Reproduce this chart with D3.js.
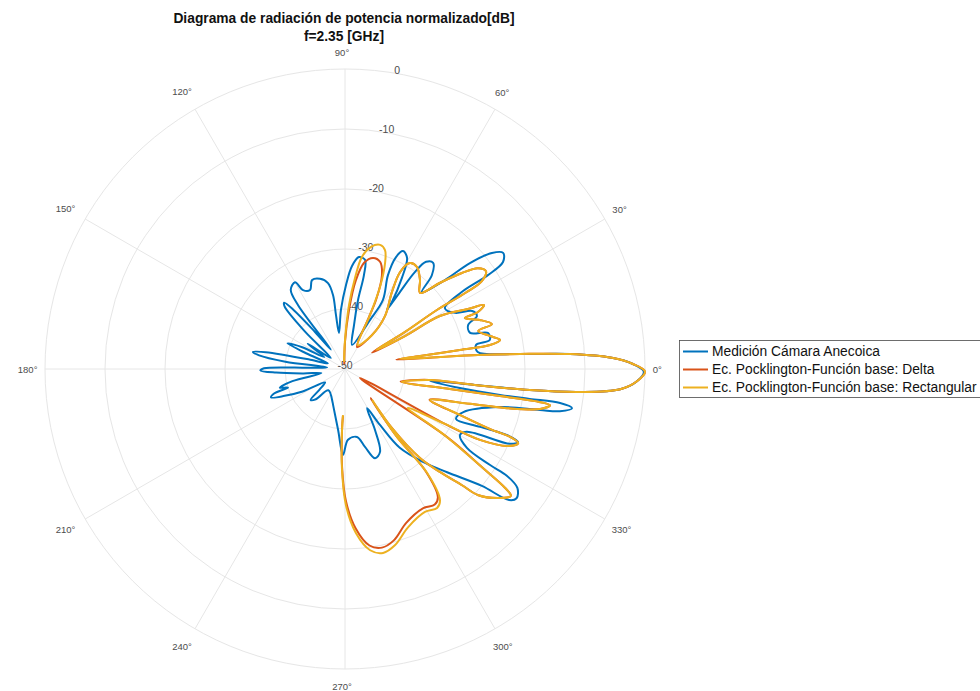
<!DOCTYPE html>
<html>
<head>
<meta charset="utf-8">
<script src="https://cdn.jsdelivr.net/npm/d3@7"></script>
<style>
  body { margin: 0; background: #ffffff; }
  svg { display: block; font-family: "Liberation Sans", Arial, Helvetica, sans-serif; }
</style>
</head>
<body>
<svg id="chart" width="980" height="691"></svg>
<script>
// ---- axis ticks ----
const rTicks = [-50, -40, -30, -20, -10, 0];
const thetaTicks = [0, 30, 60, 90, 120, 150, 180, 210, 240, 270, 300, 330];

// ---- series ----
const seriesNames = [
  "Medición Cámara Anecoica",
  "Ec. Pocklington-Función base: Delta",
  "Ec. Pocklington-Función base: Rectangular"
];
const seriesColors = ["#0072BD", "#D95319", "#EDB120"];

// measured pattern (angle in degrees, level in dB)
const medAngle = [
  99.5, 93.9, 89.3, 86.1, 82.9, 79.6, 78.6, 79.3, 78.4, 73.7,
  63.0, 61.2, 65.4, 65.5, 63.8, 60.8, 58.0, 55.0, 54.6,
  54.5, 54.2, 52.9, 50.3, 47.2, 45.0,
  41.7, 40.3, 38.3, 36.3, 34.1, 33.3, 33.4, 31.4,
  27.0, 24.5, 21.9, 19.7, 16.1, 14.1, 11.3, 10.4, 7.3,
  4.9, 3.8, 2.4, 1.0, -0.5, -2.4, -4.2, -5.6, -6.5, -7.0, -8.0,
  -9.4, -9.5, -9.2, -9.0, -9.8, -11.1, -11.9, -13.8, -20.0,
  -24.2, -23.2, -22.2, -22.9, -24.4, -27.3, -29.9,
  -32.9, -33.5, -33.4, -34.6, -37.0, -38.6, -40.5, -45.3, -50.0, -55.2, -58.0, -60.6,
  -63.8, -67.1, -71.4, -75.6, -80.0, -87.6, -91.3, -96.5, -108.4,
  250, 232, 226, 222, 219, 214, 208, 204, 201, 199, 198, 196, 193, 190,
  186, 183, 181, 179.5, 178, 175, 173, 171, 169.5, 168, 165, 162,
  158, 156, 153, 150, 146, 142, 137, 134, 132.5, 131, 129, 126,
  126.3, 124.4, 119.9, 118.0, 113.9, 110.3, 105.5, 101.2, 99.2, 99.5
];
const medDb = [
  -43.9, -40.1, -36.0, -32.8, -31.2, -31.5, -34.0, -38.3, -42.5, -45.8,
  -40.8, -36.9, -32.8, -29.5, -28.1, -28.8, -32.1, -36.4, -37.9,
  -34.2, -30.1, -27.6, -27.0, -28.7, -31.9,
  -27.7, -22.7, -18.8, -17.3, -18.2, -21.5, -26.7, -30.5,
  -29.4, -26.7, -26.3, -28.2, -28.3, -25.4, -25.4, -27.8, -27.7,
  -20.7, -12.4, -5.5, -2.0, -0.2, -1.3, -4.0, -10.7, -19.0, -28.2, -35.7,
  -30.6, -23.8, -18.8, -13.7, -11.6, -13.5, -16.8, -23.4, -29.0,
  -29.7, -25.5, -20.8, -18.7, -19.8, -27.2, -27.9,
  -25.8, -21.0, -17.7, -15.1, -14.2, -15.0, -20.0, -25.8, -29.8, -34.0, -39.0, -42.5,
  -38.7, -35.0, -34.3, -36.6, -38.5, -38.2, -35.7, -39.8, -43.7,
  -44.0, -45.5, -43.0, -42.3, -44.5, -46.0, -42.0, -39.0, -36.8, -37.5, -40.0, -38.7, -41.0, -46.0,
  -43.0, -38.5, -35.9, -36.5, -44.0, -47.0, -40.0, -35.5, -34.4, -36.5, -44.0, -47.0,
  -43.0, -39.5, -42.0, -46.0, -42.5, -47.0, -41.0, -35.5, -35.0, -37.0, -42.0, -46.0,
  -36.8, -34.0, -33.3, -35.1, -35.6, -34.2, -34.4, -35.4, -37.5, -40.9
];

// Pocklington, delta basis functions
const deltaAngle = [
  98.1, 90.0, 86.1, 83.0, 79.8, 75.8, 71.9, 68.5, 65.8, 65.2, 61.6,
  51.5, 53.0, 58.6, 60.4, 58.5, 54.8, 49.9, 45.4,
  42.2, 39.4, 37.2, 34.8, 32.7, 32.3, 32.7, 31.7, 31.3,
  28.8, 29.2, 26.0, 24.7, 23.2, 23.0, 20.0, 17.0, 15.9, 12.8, 10.6, 9.4, 9.4, 9.8, 10.3,
  7.2, 6.0, 4.9, 3.8, 2.4, 1.0, -0.5, -2.4, -4.2, -5.6, -6.5, -7.0, -7.4,
  -12.8, -10.8, -9.9, -9.6, -10.0, -11.6, -13.7, -15.6, -20.0,
  -21.8, -22.5, -22.4, -23.2, -25.3, -27.7, -28.8, -31.0,
  -33.7, -35.7, -36.6, -37.4, -39.8, -43.5, -44.8, -47.3, -49.9, -51.5, -48.9,
  -52.6, -51.7, -54.1, -56.5, -60.8, -68.3, -74.1, -78.3, -82.1, -86.2, -89.6, -91.7, -92.8, -92.5
];
const deltaDb = [
  -49.2, -45.5, -40.1, -35.1, -32.0, -30.9, -31.2, -33.2, -37.4, -40.6, -45.8,
  -42.8, -38.9, -35.0, -31.4, -29.3, -29.2, -30.6, -32.2,
  -28.6, -24.8, -22.2, -21.4, -22.9, -26.3, -31.8, -38.3, -44.7,
  -38.6, -31.9, -27.2, -24.5, -25.9, -28.3, -26.1, -24.4, -26.9, -25.2, -23.7, -25.5, -30.6, -37.3, -41.3,
  -34.0, -27.7, -20.7, -12.4, -5.5, -2.0, 0.0, -1.3, -4.0, -10.7, -19.0, -28.2, -35.9,
  -40.5, -32.2, -23.8, -17.9, -15.3, -16.8, -22.6, -28.4, -35.0,
  -29.4, -23.8, -19.9, -18.6, -20.0, -24.6, -31.0, -47.1,
  -29.6, -21.7, -16.8, -15.2, -16.4, -19.5, -22.5, -26.6, -30.6, -37.4, -43.5,
  -35.9, -28.3, -23.6, -22.9, -23.4, -22.4, -20.3, -19.6, -20.3, -23.4, -28.0, -33.6, -39.9, -42.2
];

// Pocklington, rectangular basis functions
const rectAngle = [
  98.1, 90.0, 86.4, 83.7, 81.4, 78.0, 74.2, 71.4, 69.3, 66.9, 65.2, 61.6,
  51.5, 53.0, 58.6, 60.4, 58.5, 54.8, 49.9, 45.4,
  42.2, 39.4, 37.2, 34.8, 32.7, 32.3, 32.7, 31.7, 31.5,
  28.8, 29.2, 26.0, 24.7, 23.2, 23.0, 20.0, 17.0, 15.9, 12.8, 10.6, 9.4, 9.4, 9.8, 10.3,
  7.2, 6.0, 4.9, 3.8, 2.4, 1.0, -0.5, -2.4, -4.2, -5.6, -6.5, -7.0, -7.4,
  -12.8, -10.8, -9.9, -9.6, -10.0, -11.6, -13.7, -15.6, -20.0,
  -21.8, -22.5, -22.4, -23.2, -25.3, -27.7, -28.8, -31.8,
  -33.7, -35.7, -36.6, -37.4, -39.8, -43.5, -44.8, -47.3, -49.9, -51.5, -48.9,
  -52.6, -51.7, -54.1, -56.5, -60.8, -68.3, -74.1, -78.3, -82.1, -86.2, -89.6, -91.7, -92.8, -92.5
];
const rectDb = [
  -48.8, -45.2, -39.3, -34.7, -31.1, -29.2, -28.5, -29.1, -31.1, -35.1, -40.1, -45.5,
  -42.8, -38.9, -35.0, -31.4, -29.3, -29.2, -30.6, -32.2,
  -28.6, -24.8, -22.2, -21.4, -22.9, -26.3, -31.8, -38.3, -43.9,
  -38.6, -31.9, -27.2, -24.5, -25.9, -28.3, -26.1, -24.4, -26.9, -25.2, -23.7, -25.5, -30.6, -37.3, -40.7,
  -34.0, -27.7, -20.7, -12.4, -5.5, -2.0, 0.0, -1.3, -4.0, -10.7, -19.0, -28.2, -35.7,
  -40.3, -32.2, -23.8, -17.9, -15.3, -16.8, -22.6, -28.4, -34.9,
  -29.4, -23.8, -19.9, -18.6, -20.0, -24.6, -31.0, -37.7,
  -29.6, -21.7, -16.8, -15.2, -16.4, -19.5, -22.5, -26.6, -30.6, -37.4, -43.1,
  -35.7, -27.9, -23.0, -22.2, -22.7, -21.6, -19.5, -18.7, -19.5, -22.6, -27.3, -33.2, -39.8, -42.3
];

// ---- layout ----
const W = 980, H = 691;
const cx = 345, cy = 369, R = 300;

const svg = d3.select("#chart");
svg.append("rect").attr("width", W).attr("height", H).attr("fill", "#ffffff");

const r = d3.scaleLinear().domain([rTicks[0], rTicks[rTicks.length - 1]]).range([0, R]).clamp(true);
// compass-style angle used by d3.lineRadial: 0 = up, clockwise
const toRad = deg => (90 - deg) * Math.PI / 180;

const g = svg.append("g").attr("transform", `translate(${cx},${cy})`);

// grid rings
const grid = g.append("g").attr("fill", "none").attr("stroke", "#e6e6e6").attr("stroke-width", 1);
rTicks.filter(t => r(t) > 0).forEach(t => {
  grid.append("circle").attr("r", r(t));
});
// spokes
thetaTicks.forEach(t => {
  const a = toRad(t);
  grid.append("line")
    .attr("x1", 0).attr("y1", 0)
    .attr("x2", R * Math.sin(a)).attr("y2", -R * Math.cos(a));
});

// radial tick labels along 80 degrees
const rLabelAngle = toRad(80);
g.append("g").selectAll("text").data(rTicks).join("text")
  .attr("x", d => r(d) * Math.sin(rLabelAngle))
  .attr("y", d => -r(d) * Math.cos(rLabelAngle) - 4)
  .attr("text-anchor", "middle")
  .attr("dominant-baseline", "central")
  .attr("font-size", 10.5)
  .attr("fill", "#4d4d4d")
  .text(d => d);

// angle labels
g.append("g").selectAll("text").data(thetaTicks).join("text")
  .each(function (d) {
    const label = d + "°";
    const w = label.length * 5.2;
    const rad = d * Math.PI / 180;
    const off = 307 + Math.abs(Math.cos(rad)) * w / 2 + Math.abs(Math.sin(rad)) * 10;
    d3.select(this)
      .attr("x", off * Math.cos(rad) - 3 * Math.abs(Math.sin(rad)))
      .attr("y", -off * Math.sin(rad))
      .text(label);
  })
  .attr("text-anchor", "middle")
  .attr("dominant-baseline", "central")
  .attr("font-size", 9.5)
  .attr("fill", "#4d4d4d");

// pattern curves
const radial = d3.lineRadial()
  .angle(d => toRad(d[0]))
  .radius(d => r(d[1]));

const series = [
  { a: medAngle, v: medDb, closed: true },
  { a: deltaAngle, v: deltaDb, closed: false },
  { a: rectAngle, v: rectDb, closed: false }
];

series.forEach((s, i) => {
  const pts = s.a.map((a, k) => [a, s.v[k]]);
  const curve = s.closed ? d3.curveCatmullRomClosed.alpha(0.5) : d3.curveCatmullRom.alpha(0.5);
  g.append("path")
    .attr("d", radial.curve(curve)(pts))
    .attr("fill", "none")
    .attr("stroke", seriesColors[i])
    .attr("stroke-width", 2)
    .attr("stroke-linejoin", "round");
});

// title
const title = svg.append("g").attr("font-weight", "bold").attr("fill", "#111").attr("text-anchor", "middle");
title.append("text").attr("x", 344).attr("y", 23).attr("font-size", 13.8)
  .text("Diagrama de radiación de potencia normalizado[dB]");
title.append("text").attr("x", 344).attr("y", 41).attr("font-size", 13.8)
  .text("f=2.35 [GHz]");

// legend
const lg = svg.append("g").attr("transform", "translate(679,340)");
lg.append("rect").attr("x", 0.5).attr("y", 0.5).attr("width", 320).attr("height", 57)
  .attr("fill", "#ffffff").attr("stroke", "#4a4a4a").attr("stroke-width", 0.8);
seriesNames.forEach((name, i) => {
  const yy = 11.5 + i * 18;
  lg.append("line").attr("x1", 4).attr("x2", 29).attr("y1", yy).attr("y2", yy)
    .attr("stroke", seriesColors[i]).attr("stroke-width", 2);
  lg.append("text").attr("x", 33).attr("y", yy).attr("dominant-baseline", "central")
    .attr("font-size", 13.8).attr("fill", "#111").text(name);
});
</script>
</body>
</html>
